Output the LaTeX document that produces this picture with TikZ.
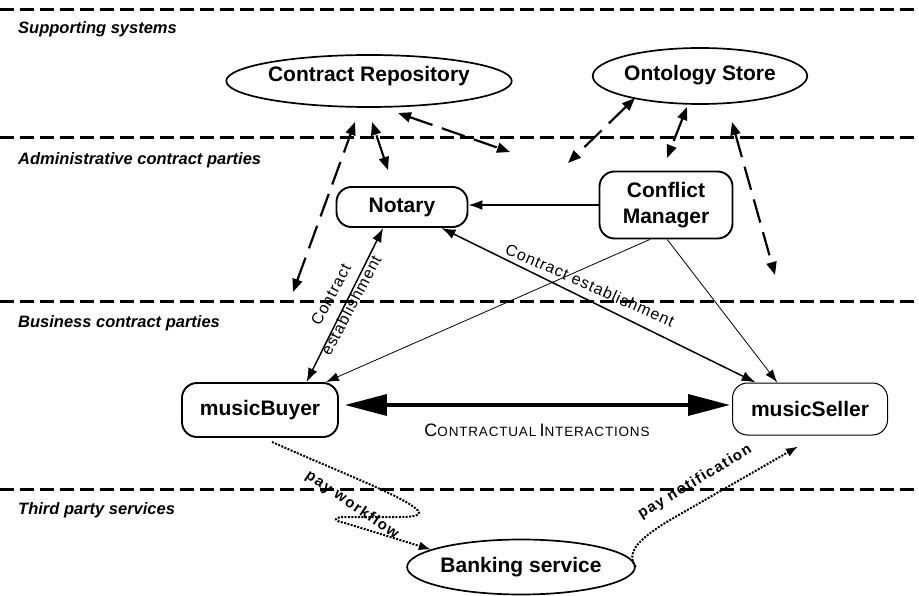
\documentclass[tikz,border=0pt]{standalone}
\usepackage{fontspec}
\setmainfont{Liberation Sans}
\newfontfamily\lsfont[LetterSpace=6]{Liberation Sans}
\newfontfamily\lsbfont[LetterSpace=9]{Liberation Sans Bold}
\usetikzlibrary{arrows.meta,shapes.geometric,calc}
\begin{document}
\begin{tikzpicture}[x=1pt,y=-1pt,
  sepline/.style={line width=3pt, dash pattern=on 14pt off 6pt},
  sect/.style={anchor=west, inner sep=0pt, font=\fontsize{16.5}{19}\selectfont\bfseries\itshape},
  ell/.style={ellipse, draw, line width=1.7pt, inner sep=0pt, font=\fontsize{21}{25}\selectfont\bfseries},
  party/.style={draw, line width=1.9pt, rounded corners=15pt, inner sep=0pt, font=\fontsize{21}{26}\selectfont\bfseries, align=center},
  dsh/.style={line width=2.2pt, dash pattern=on 24pt off 10pt, {Triangle[length=13pt,width=10pt]}-{Triangle[length=13pt,width=10pt]}},
  estab/.style={line width=1.5pt, {Latex[length=14pt,width=10pt]}-{Latex[length=14pt,width=10pt]}},
  thinarr/.style={line width=0.8pt, -{Latex[length=13pt,width=9pt]}},
  dotarr/.style={line width=2pt, dash pattern=on 2pt off 1.4pt, -{Latex[length=12pt,width=9pt]}},
  lbl/.style={inner sep=0pt, font=\lsfont\fontsize{16}{19}\selectfont, align=center},
  paylbl/.style={inner sep=0pt, font=\lsbfont\fontsize{15}{17}\selectfont}
]
\useasboundingbox (0,0) rectangle (919,596);

% section separators
\draw[sepline] (0,10) -- (919,10);
\draw[sepline] (0,138) -- (919,138);
\draw[sepline] (0,302) -- (919,302);
\draw[sepline] (0,489) -- (919,489);

\node[sect] (s1) at (18,29) {Supporting systems};
\node[sect] (s2) at (18,160) {Administrative contract parties};
\node[sect] (s3) at (18,323) {Business contract parties};
\node[sect] (s4) at (18,510) {Third party services};

% nodes
\node[ell, minimum width=232pt, minimum height=52pt, text depth=14pt] (cr) at (369,81) {Contract Repository};
\node[ell, minimum width=190pt, minimum height=56pt, text depth=7pt] (os) at (700,76) {Ontology Store};
\node[ell, minimum width=188pt, minimum height=55pt] (bk) at (521,567) {Banking service};

\node[party, minimum width=131pt, minimum height=40pt] (nt) at (402,207) {Notary};
\node[party, minimum width=133pt, minimum height=67pt] (cm) at (666,205) {Conflict\\Manager};
\node[party, minimum width=156pt, minimum height=54pt] (mb) at (260,410) {musicBuyer};
\node[party, line width=1pt, minimum width=155pt, minimum height=52pt] (ms) at (810,409) {musicSeller};

% solid connectors
\draw[line width=1.5pt, -{Latex[length=14pt,width=10pt]}] (cm.west) -- (cm.west -| nt.east);
\draw[estab] (nt.-28) -- (ms.154);
\draw[estab] (mb.31) -- (nt.-132);
\draw[thinarr] (cm.-115) -- (mb.23);
\draw[thinarr] (cm.-88) -- (ms.141);
\draw[line width=3.5pt, {Triangle[length=42pt,width=21pt]}-{Triangle[length=42pt,width=21pt]}]
  ($(mb.east)+(6,-5)$) -- ($(ms.west)+(-2,-4)$);

\node[lbl, rotate=-24] (l1) at (590,285) {Contract establishment};
\node[lbl, rotate=62, font=\lsfont\fontsize{16}{23}\selectfont] (l2) at (341,300) {Contract\\establishment};
\node[inner sep=0pt, font=\lsfont] (l3) at (537,430)
  {{\fontsize{18}{19}\selectfont C}{\fontsize{13.5}{19}\selectfont ONTRACTUAL} {\fontsize{18}{19}\selectfont I}{\fontsize{13.5}{19}\selectfont NTERACTIONS}};

% dashed connectors (free ends)
\coordinate (a1) at (293,292); \coordinate (a2) at (355,122);
\coordinate (b1) at (388,170); \coordinate (b2) at (372,122);
\coordinate (c1) at (398,113); \coordinate (c2) at (510,152);
\coordinate (d1) at (635,98);  \coordinate (d2) at (568,163);
\coordinate (e1) at (687,107); \coordinate (e2) at (667,158);
\coordinate (f1) at (732,122); \coordinate (f2) at (775,275);
\draw[dsh] (a1) -- (a2);
\draw[dsh] (b1) -- (b2);
\draw[dsh] (c1) -- (c2);
\draw[dsh] (d1) -- (d2);
\draw[dsh] (e1) -- (e2);
\draw[dsh] (f1) -- (f2);

% dotted payment flows
\draw[dotarr] ($(mb.south)+(12,4)$) .. controls (330,468) and (400,495) .. (415,508)
  .. controls (425,515) and (415,517) .. (400,517) -- (345,517)
  .. controls (333,517) and (333,521) .. (345,523) -- (bk.169);
\coordinate (pn) at ($(ms.south)+(-12,11)$);
\draw[dotarr] (bk.east) .. controls (625,552) and (640,538) .. (670,520) -- (pn);

\node[paylbl, rotate=-34] (l4) at (352,505) {pay workflow};
\node[paylbl, rotate=31] (l5) at (695,482) {pay notification};
\end{tikzpicture}
\end{document}
